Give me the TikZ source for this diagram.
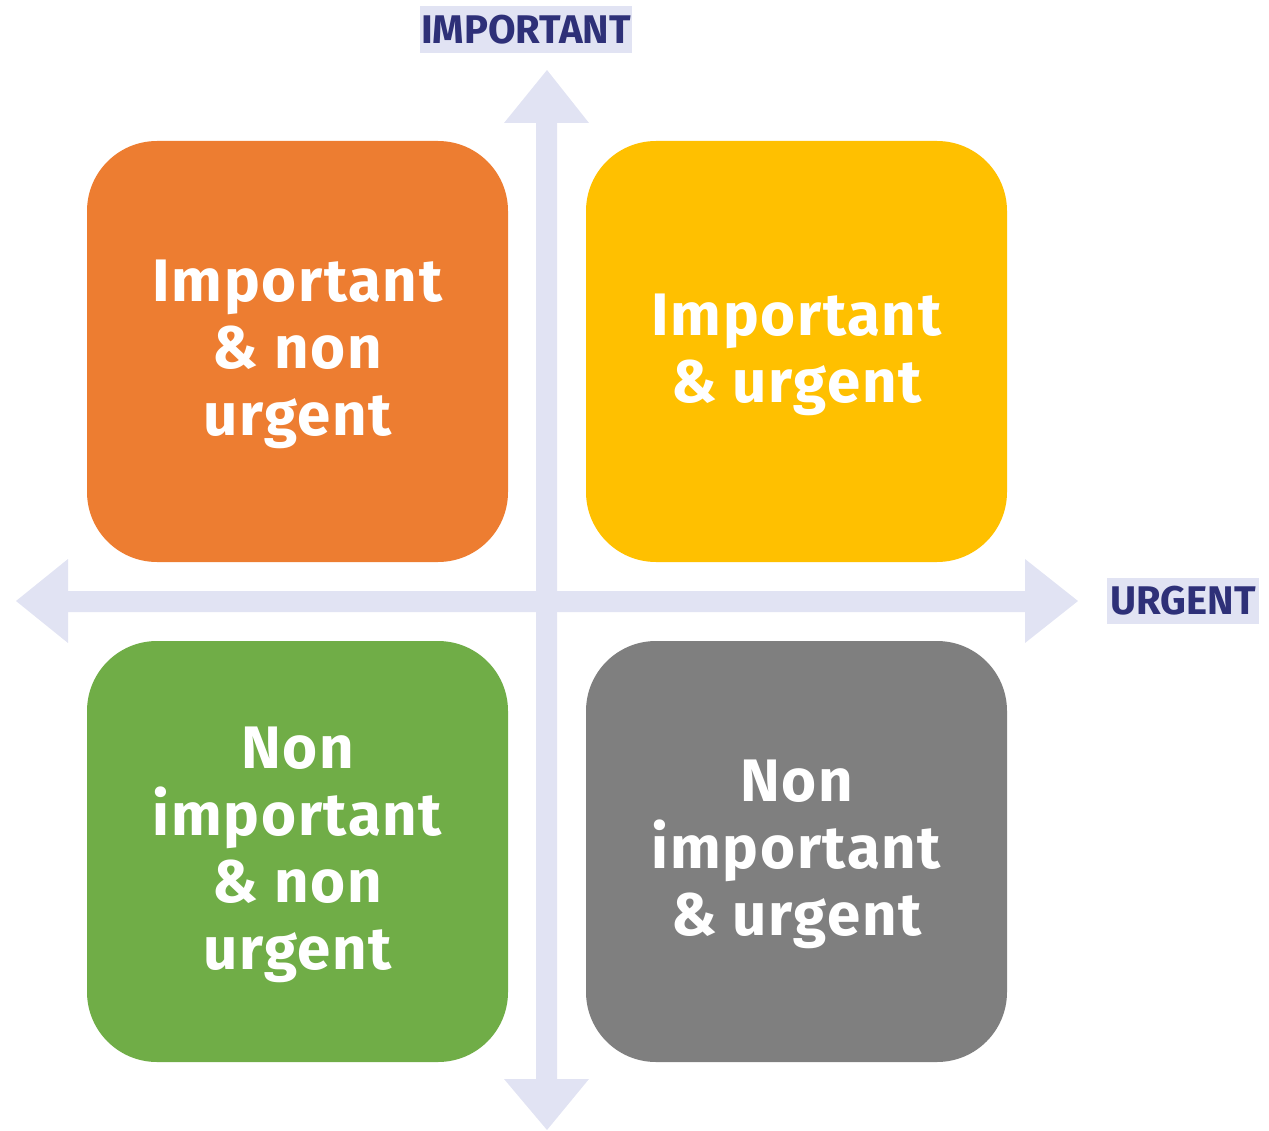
\documentclass[tikz,border=0pt]{standalone}
\usepackage{fontspec}
\setmainfont{Fira Sans}
\newfontfamily\quadfont[LetterSpace=2.8]{Fira Sans}
\definecolor{qorange}{HTML}{ED7D31}
\definecolor{qyellow}{HTML}{FFC000}
\definecolor{qgreen}{HTML}{70AD47}
\definecolor{qgray}{HTML}{7F7F7F}
\definecolor{axiscol}{HTML}{E1E3F3}
\definecolor{navy}{HTML}{2E3078}
\begin{document}
\begin{tikzpicture}[x=1pt,y=-1pt,
  quad/.style={minimum width=421pt,minimum height=421pt,rounded corners=70pt,
    inner sep=0pt},
  qtext/.style={inner sep=0pt,align=center,text=white,yshift=-3pt,
    font=\quadfont\fontsize{60}{67}\selectfont\bfseries},
  lab/.style={fill=axiscol,text=navy,inner sep=0pt,
    font=\fontsize{40}{44}\selectfont\bfseries}]
\useasboundingbox (0,0) rectangle (1269,1131);
% axes
\fill[axiscol] (536,123) -- (504,123) -- (547,70) -- (589,123) -- (557,123)
  -- (557,1079) -- (589,1079) -- (547,1130) -- (504,1079) -- (536,1079) -- cycle;
\fill[axiscol] (68,591) -- (68,559) -- (16,601) -- (68,643) -- (68,612)
  -- (1025,612) -- (1025,643) -- (1078,601) -- (1025,559) -- (1025,591) -- cycle;
% quadrants
\node[quad,fill=qorange] (q1) at (297.5,351.5) {};
\node[quad,fill=qyellow] (q2) at (796.5,351.5) {};
\node[quad,fill=qgreen] (q3) at (297.5,851.5) {};
\node[quad,fill=qgray] (q4) at (796.5,851.5) {};
\node[qtext] (t1) at (q1.center) {Important\\\& non\\urgent};
\node[qtext] (t2) at (q2.center) {Important\\\& urgent};
\node[qtext] (t3) at (q3.center) {Non\\important\\\& non\\urgent};
\node[qtext] (t4) at (q4.center) {Non\\important\\\& urgent};
% labels
\node[lab,minimum width=212pt,minimum height=47pt] (limp) at (526,29.5) {IMPORTANT};
\node[lab,minimum width=152pt,minimum height=46pt] (lurg) at (1183,601) {URGENT};
\end{tikzpicture}
\end{document}
